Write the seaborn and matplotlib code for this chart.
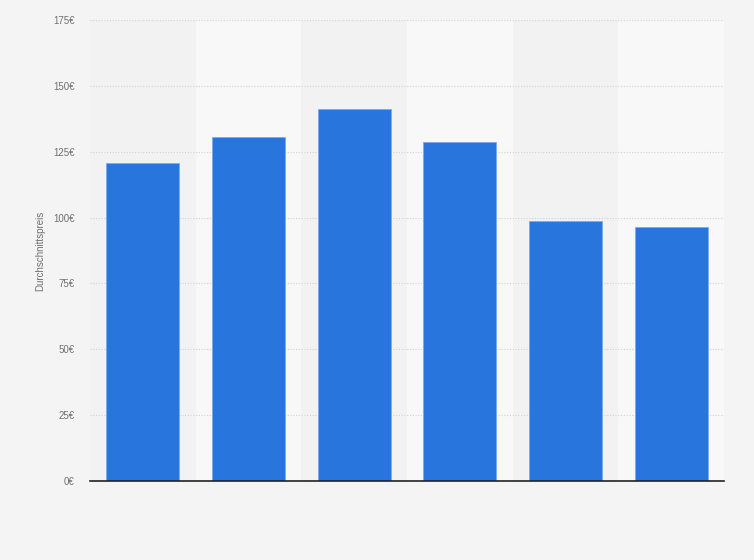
import matplotlib
matplotlib.use('Agg')
import matplotlib.pyplot as plt
import seaborn as sns
import pandas as pd
from matplotlib.ticker import FuncFormatter

# Daten
categories = ['A', 'B', 'C', 'D', 'E', 'F']
prices = [120.6, 130.5, 141.4, 128.6, 98.6, 96.6]
y_ticks = [0, 25, 50, 75, 100, 125, 150, 175]

sns.set_style('white')
plt.rcParams['font.family'] = ['Liberation Sans', 'DejaVu Sans']

df = pd.DataFrame({'Kategorie': categories, 'Preis': prices})

fig = plt.figure(figsize=(7.54, 5.6), dpi=100, facecolor='#f4f4f4')
ax = fig.add_axes([0.1194, 0.1411, 0.8408, 0.8232])
ax.set_facecolor('#f2f2f2')

# abwechselnde Hintergrundstreifen
for i in range(len(categories)):
    ax.axvspan(i - 0.5, i + 0.5, color='#f2f2f2' if i % 2 == 0 else '#f8f8f8',
               zorder=0, lw=0)

sns.barplot(data=df, x='Kategorie', y='Preis', color='#2876dd', saturation=1,
            width=0.69, edgecolor='#7aaaf0', linewidth=0.6, ax=ax, zorder=3)

ax.set_xlim(-0.5, len(categories) - 0.5)
ax.set_ylim(0, 175)
ax.set_yticks(y_ticks)
ax.yaxis.set_major_formatter(FuncFormatter(lambda v, p: f'{int(v)}€'))
ax.tick_params(axis='y', length=0, pad=11, labelsize=7, labelcolor='#707070')
ax.set_xticks([])
ax.set_xlabel('')
ax.set_ylabel('Durchschnittspreis', fontsize=7, color='#707070', labelpad=6)

ax.yaxis.grid(True, linestyle=(0, (1, 1.5)), color='#d0d0d0', linewidth=0.8, zorder=1)
ax.set_axisbelow(True)
for s in ['top', 'right', 'left']:
    ax.spines[s].set_visible(False)
ax.spines['bottom'].set_color('#222222')
ax.spines['bottom'].set_linewidth(1.2)
ax.spines['bottom'].set_zorder(5)

fig.savefig('out.png', dpi=100, facecolor=fig.get_facecolor())
